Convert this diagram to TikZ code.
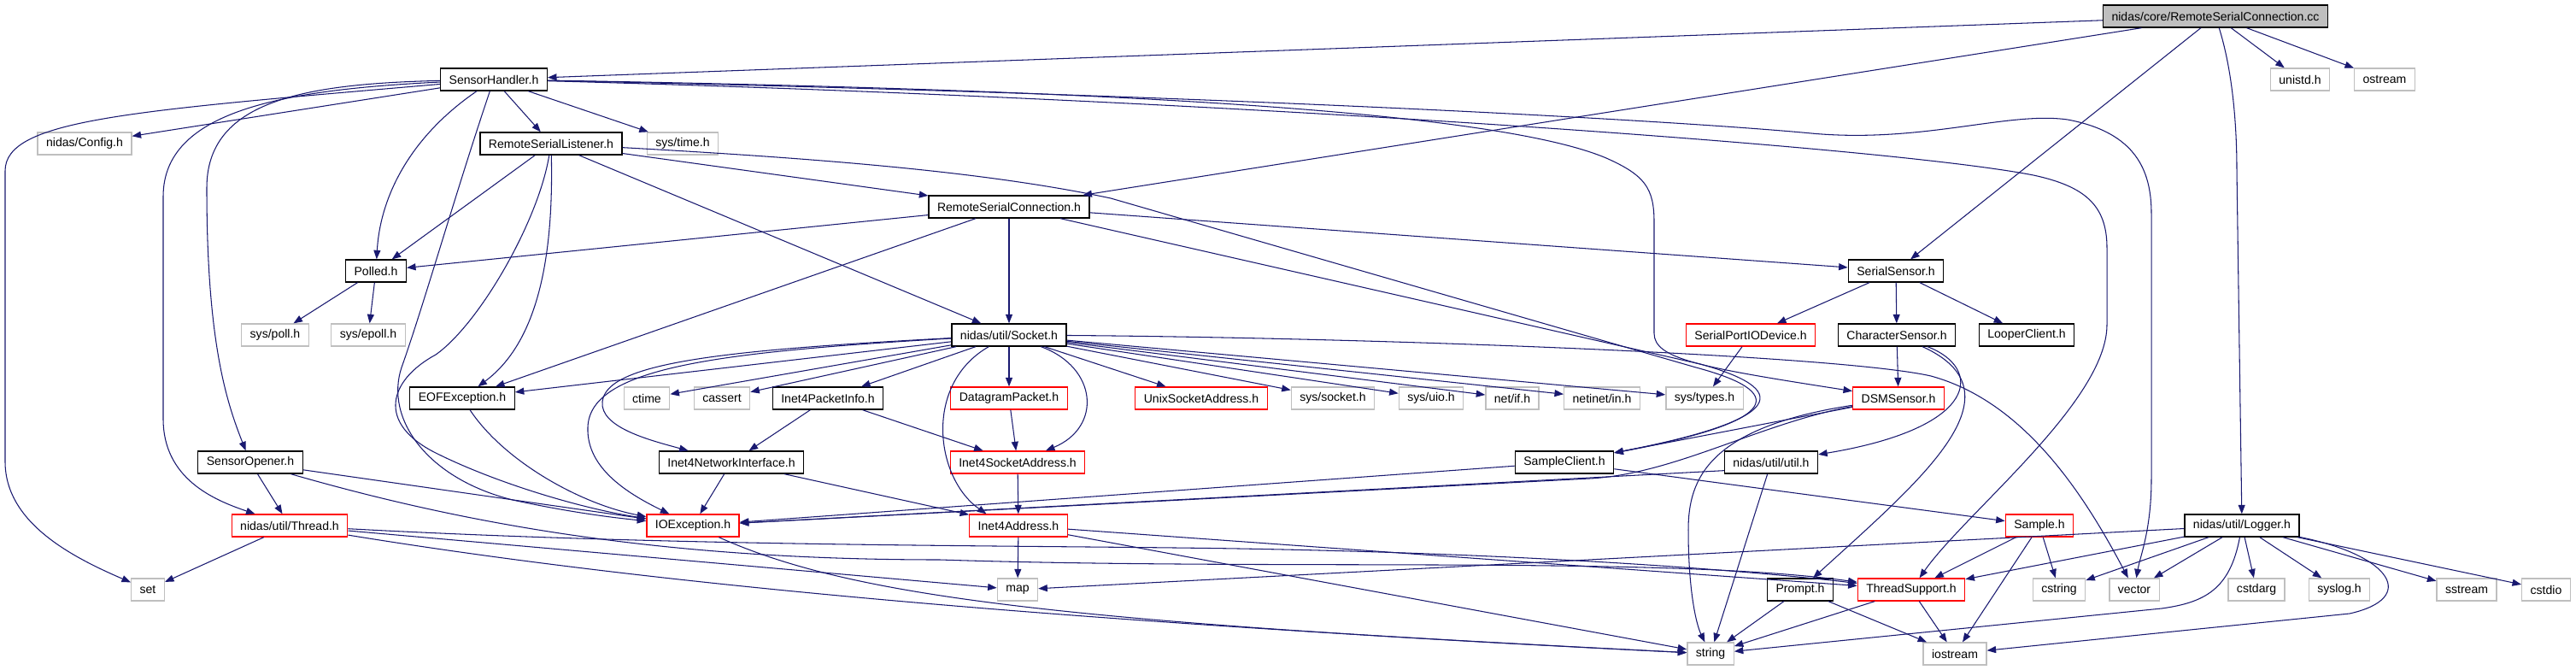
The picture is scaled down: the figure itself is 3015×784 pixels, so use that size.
\documentclass[tikz,border=0pt]{standalone}
\usepackage{fontspec}
\setmainfont{Liberation Sans}
\usetikzlibrary{arrows.meta}
\definecolor{depblue}{HTML}{191970}
\definecolor{sysgray}{HTML}{BFBFBF}

\begin{document}
\begin{tikzpicture}[
  x=0.02cm, y=-0.02cm,
  >={Triangle[length=0.21cm, width=0.16cm]},
  font=\fontsize{8}{9.6}\selectfont,
  box/.style={rectangle, line width=0.75pt, fill=white, minimum height=0.52cm, inner xsep=0.2cm, inner ysep=0pt},
  hdr/.style={box, draw=black},
  sysinc/.style={box, draw=sysgray},
  trunc/.style={box, draw=red},
  root/.style={box, draw=black, fill=sysgray},
  dep/.style={->, draw=depblue, line width=0.6pt}
]
  \fill[white] (0,0) rectangle (3015,784);
  \useasboundingbox (0,0) rectangle (3015,784);

  % Fichero raiz y primer nivel
  \node[root] (cc) at (2593,19) {nidas/core/RemoteSerialConnection.cc};
  \node[hdr] (sh) at (578,93) {SensorHandler.h};
  \node[sysinc] (unistd) at (2692,93) {unistd.h};
  \node[sysinc] (ostream) at (2791,93) {ostream};

  \node[sysinc] (config) at (99,168) {nidas/Config.h};
  \node[hdr] (rsl) at (645,168) {RemoteSerialListener.h};
  \node[sysinc] (systime) at (799,168) {sys/time.h};
  \node[hdr] (rsc) at (1181,242) {RemoteSerialConnection.h};
  \node[hdr] (polled) at (440,317) {Polled.h};
  \node[hdr] (serial) at (2219,317) {SerialSensor.h};

  \node[sysinc] (syspoll) at (322,392) {sys/poll.h};
  \node[sysinc] (sysepoll) at (431,392) {sys/epoll.h};
  \node[hdr] (socket) at (1181,392) {nidas/util/Socket.h};
  \node[trunc] (spio) at (2049,392) {SerialPortIODevice.h};
  \node[hdr] (charsens) at (2220,392) {CharacterSensor.h};
  \node[hdr] (looper) at (2372,392) {LooperClient.h};

  % Fila de cabeceras de red
  \node[hdr] (eofexc) at (541,466) {EOFException.h};
  \node[sysinc] (ctime) at (757,466) {ctime};
  \node[sysinc] (cassert) at (845,466) {cassert};
  \node[hdr] (pktinfo) at (969,466) {Inet4PacketInfo.h};
  \node[trunc] (dgram) at (1181,466) {DatagramPacket.h};
  \node[trunc] (unixaddr) at (1406,466) {UnixSocketAddress.h};
  \node[sysinc] (syssocket) at (1560,466) {sys/socket.h};
  \node[sysinc] (sysuio) at (1675,466) {sys/uio.h};
  \node[sysinc] (netif) at (1770,466) {net/if.h};
  \node[sysinc] (netinet) at (1875,466) {netinet/in.h};
  \node[sysinc] (systypes) at (1995,466) {sys/types.h};
  \node[trunc] (dsm) at (2222,466) {DSMSensor.h};

  \node[hdr] (opener) at (293,541) {SensorOpener.h};
  \node[hdr] (netiface) at (856,541) {Inet4NetworkInterface.h};
  \node[trunc] (sockaddr) at (1191,541) {Inet4SocketAddress.h};
  \node[hdr] (client) at (1831,541) {SampleClient.h};
  \node[hdr] (util) at (2073,541) {nidas/util/util.h};

  \node[trunc] (thread) at (339,615) {nidas/util/Thread.h};
  \node[trunc] (ioexc) at (811,615) {IOException.h};
  \node[trunc] (addr) at (1192,615) {Inet4Address.h};
  \node[trunc] (sample) at (2387,615) {Sample.h};
  \node[hdr] (logger) at (2624,615) {nidas/util/Logger.h};

  % Cabeceras del sistema abajo
  \node[sysinc] (set) at (173,690) {set};
  \node[sysinc] (map) at (1191,690) {map};
  \node[hdr] (prompt) at (2107,690) {Prompt.h};
  \node[trunc] (tsupport) at (2237,690) {ThreadSupport.h};
  \node[sysinc] (cstring) at (2410,690) {cstring};
  \node[sysinc] (vector) at (2498,690) {vector};
  \node[sysinc] (cstdarg) at (2641,690) {cstdarg};
  \node[sysinc] (syslog) at (2738,690) {syslog.h};
  \node[sysinc] (sstream) at (2887,690) {sstream};
  \node[sysinc] (cstdio) at (2980,690) {cstdio};
  \node[sysinc] (string) at (2002,765) {string};
  \node[sysinc] (iostream) at (2288,765) {iostream};

  % Dependencias del fichero raiz
  \draw[dep] (cc) -- (sh);
  \draw[dep] (cc) -- (rsc);
  \draw[dep] (cc) -- (serial);
  \draw[dep] (cc) -- (unistd);
  \draw[dep] (cc) -- (ostream);
  \draw[dep] (cc) .. controls (2612,80) and (2618,140) .. (2618,200) -- (logger);

  % SensorHandler.h
  \draw[dep] (sh) -- (config);
  \draw[dep] (sh) -- (rsl);
  \draw[dep] (sh) -- (systime);
  \draw[dep] (sh) .. controls (480,160) and (445,230) .. (polled);
  \draw[dep] (sh) .. controls (150,130) and (6,140) .. (6,200) -- (6,540) .. controls (6,610) and (80,650) .. (set);
  \draw[dep] (sh) .. controls (330,105) and (191,130) .. (191,230) -- (191,490) .. controls (191,560) and (250,585) .. (thread);
  \draw[dep] (sh) .. controls (350,98) and (242,120) .. (242,220) .. controls (242,400) and (265,470) .. (opener);
  \draw[dep] (sh) .. controls (535,220) and (495,360) .. (470,430) .. controls (450,490) and (500,560) .. (600,585) .. controls (660,598) and (710,605) .. (ioexc);
  \draw[dep] (sh) .. controls (1300,105) and (1750,130) .. (1880,185) .. controls (1925,205) and (1936,220) .. (1936,260) -- (1936,390) .. controls (1936,420) and (1990,430) .. (dsm);
  \draw[dep] (sh) .. controls (1400,115) and (2200,170) .. (2380,205) .. controls (2440,218) and (2466,240) .. (2466,290) -- (2466,380) .. controls (2466,470) and (2300,600) .. (tsupport);
  \draw[dep] (sh) .. controls (1400,110) and (1950,140) .. (2120,156) .. controls (2250,168) and (2350,130) .. (2420,140) .. controls (2500,155) and (2518,200) .. (2518,250) -- (2518,560) .. controls (2518,620) and (2505,650) .. (vector);

  % RemoteSerialListener.h
  \draw[dep] (rsl) -- (polled);
  \draw[dep] (rsl) -- (rsc);
  \draw[dep] (rsl) -- (socket);
  \draw[dep] (rsl) .. controls (648,300) and (630,400) .. (eofexc);
  \draw[dep] (rsl) .. controls (630,260) and (560,380) .. (510,415) .. controls (455,445) and (440,495) .. (510,530) .. controls (580,565) and (680,595) .. (ioexc);
  \draw[dep] (rsl) .. controls (950,185) and (1150,200) .. (1300,232) -- (1985,430) .. controls (2090,458) and (2090,492) .. (client);

  % RemoteSerialConnection.h
  \draw[dep] (rsc) -- (polled);
  \draw[dep] (rsc) -- (eofexc);
  \draw[dep] (rsc) -- (socket);
  \draw[dep] (rsc) -- (serial);
  \draw[dep] (rsc) -- (1990,426) .. controls (2095,455) and (2095,490) .. (client);

  % Socket.h
  \draw[dep] (socket) -- (eofexc);
  \draw[dep] (socket) -- (ctime);
  \draw[dep] (socket) -- (cassert);
  \draw[dep] (socket) -- (pktinfo);
  \draw[dep] (socket) -- (dgram);
  \draw[dep] (socket) -- (unixaddr);
  \draw[dep] (socket) -- (syssocket);
  \draw[dep] (socket) -- (sysuio);
  \draw[dep] (socket) -- (netif);
  \draw[dep] (socket) -- (netinet);
  \draw[dep] (socket) -- (systypes);
  \draw[dep] (socket) .. controls (1285,430) and (1290,500) .. (sockaddr);
  \draw[dep] (socket) .. controls (1080,450) and (1095,560) .. (addr.160);
  \draw[dep] (socket) .. controls (840,412) and (690,430) .. (688,500) .. controls (686,550) and (740,580) .. (ioexc);
  \draw[dep] (socket) .. controls (840,410) and (710,425) .. (705,470) .. controls (702,500) and (760,515) .. (netiface);
  \draw[dep] (socket) .. controls (1600,395) and (2150,415) .. (2260,440) .. controls (2370,470) and (2440,580) .. (vector);

  % Excepciones y direcciones
  \draw[dep] (eofexc) .. controls (590,540) and (680,590) .. (ioexc);
  \draw[dep] (pktinfo) -- (netiface);
  \draw[dep] (pktinfo) -- (sockaddr);
  \draw[dep] (dgram) -- (sockaddr);
  \draw[dep] (sockaddr) -- (addr);
  \draw[dep] (netiface) -- (ioexc);
  \draw[dep] (netiface) -- (addr);
  \draw[dep] (ioexc) .. controls (1000,700) and (1250,728) .. (string);
  \draw[dep] (addr) -- (map);
  \draw[dep] (addr) -- (string);
  \draw[dep] (addr) -- (tsupport);

  % SensorOpener.h y Thread.h
  \draw[dep] (polled) -- (syspoll);
  \draw[dep] (polled) -- (sysepoll);
  \draw[dep] (opener) -- (thread);
  \draw[dep] (opener) -- (ioexc);
  \draw[dep] (opener) .. controls (550,615) and (780,655) .. (1100,655) .. controls (1500,668) and (1950,650) .. (tsupport);
  \draw[dep] (thread) -- (set);
  \draw[dep] (thread) -- (map);
  \draw[dep] (thread) .. controls (800,640) and (1200,638) .. (1450,642) .. controls (1800,648) and (2050,668) .. (tsupport);
  \draw[dep] (thread) .. controls (800,690) and (1300,730) .. (string);

  % Sensores
  \draw[dep] (serial) -- (spio);
  \draw[dep] (serial) -- (charsens);
  \draw[dep] (serial) -- (looper);
  \draw[dep] (spio) -- (systypes);
  \draw[dep] (charsens) -- (dsm);
  \draw[dep] (charsens) .. controls (2320,430) and (2320,500) .. (util);
  \draw[dep] (charsens) .. controls (2370,460) and (2250,560) .. (prompt);
  \draw[dep] (dsm) -- (client);
  \draw[dep] (dsm) .. controls (2060,495) and (1960,555) .. (1860,560) -- (ioexc);
  \draw[dep] (dsm) .. controls (2000,500) and (1976,560) .. (1976,620) .. controls (1976,690) and (1985,730) .. (string);
  \draw[dep] ([yshift=0.08cm]util.south west) -- (ioexc);
  \draw[dep] (util) -- (string);
  \draw[dep] (client) -- (ioexc);
  \draw[dep] (client) -- (sample);
  \draw[dep] (sample) -- (tsupport);
  \draw[dep] (sample) -- (cstring);
  \draw[dep] (sample) -- (iostream);

  % Logger.h
  \draw[dep] (logger) -- (map);
  \draw[dep] (logger) -- (tsupport);
  \draw[dep] (logger) -- (cstring);
  \draw[dep] (logger) -- (vector);
  \draw[dep] (logger) -- (cstdarg);
  \draw[dep] (logger) -- (syslog);
  \draw[dep] (logger) -- (sstream);
  \draw[dep] (logger) -- (cstdio);
  \draw[dep] (logger) .. controls (2610,690) and (2580,705) .. (2530,712) -- (string);
  \draw[dep] (logger) .. controls (2800,650) and (2830,700) .. (2750,718) -- (iostream);

  % Nivel inferior
  \draw[dep] (prompt) -- (string);
  \draw[dep] (prompt) -- (iostream);
  \draw[dep] (tsupport) -- (string);
  \draw[dep] (tsupport) -- (iostream);

\end{tikzpicture}
\end{document}
